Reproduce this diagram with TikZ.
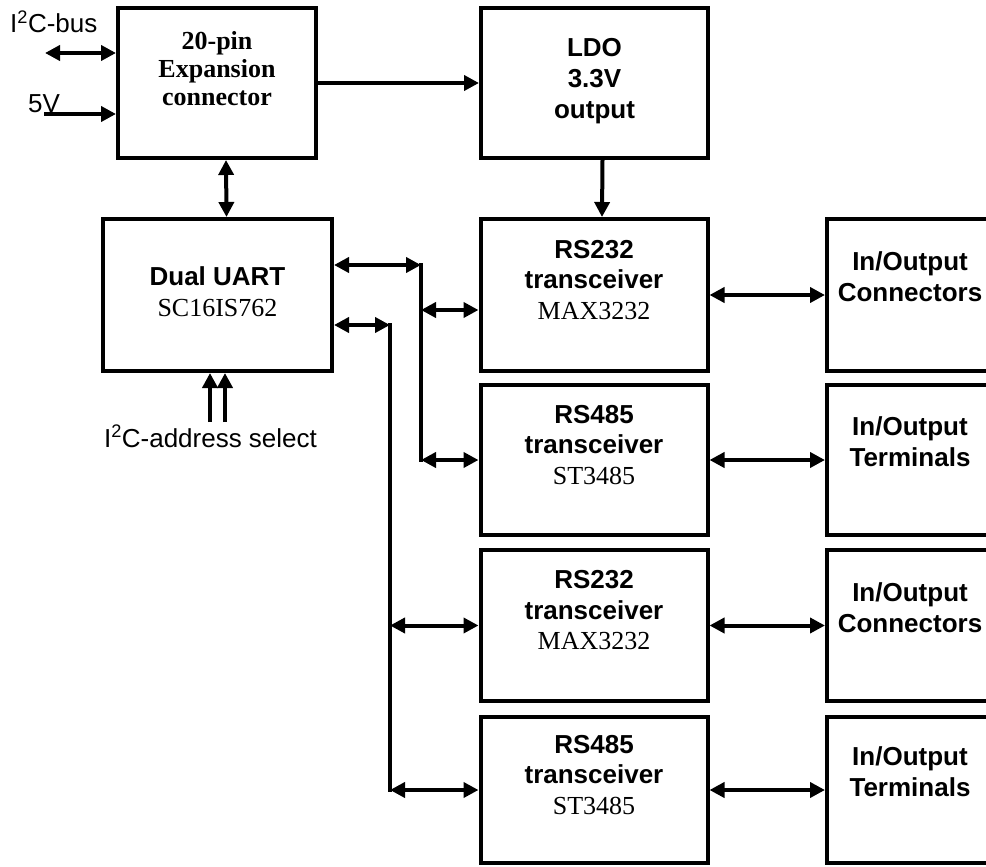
\documentclass[tikz,border=0pt]{standalone}
\usepackage{fontspec}
\setmainfont{Liberation Serif}
\setsansfont{Liberation Sans}
\usepackage{tikz}
\usetikzlibrary{arrows.meta}
\tikzstyle{blk}=[shape=rectangle, draw, line width=4pt, inner sep=0]
\tikzstyle{txt}=[align=center, inner sep=0, font=\fontsize{26}{31}\selectfont]
\tikzstyle{lbl}=[inner sep=0, font=\sffamily\fontsize{26}{31}\selectfont]
\tikzstyle{bus}=[line width=4pt, line cap=rect]
\tikzstyle{sgl}=[line width=4pt, -{Triangle[length=15pt,width=15pt]}]
\tikzstyle{dbl}=[line width=4pt, {Triangle[length=15pt,width=15pt]}-{Triangle[length=15pt,width=15pt]}]
\newcommand{\sfb}[1]{{\sffamily\bfseries #1}}

\begin{document}
\begin{tikzpicture}[x=1pt, y=-1pt]
\useasboundingbox (0,0) rectangle (986,867);
% blocks
\node at (217,83)[blk, minimum width=198pt, minimum height=150pt](exp){};
\node at (594.5,83)[blk, minimum width=227pt, minimum height=150pt](ldo){};
\node at (217.5,295)[blk, minimum width=229pt, minimum height=152pt](uart){};
\foreach \n/\y/\h in {1/295/152, 2/460/150, 3/625.5/151, 4/790/146} {
  \node at (594,\y)[blk, minimum width=227pt, minimum height=\h pt](rs\n){};
  \node at (910,\y)[blk, minimum width=166pt, minimum height=\h pt](io\n){};
}
% texts
\node at (exp)[txt, font=\bfseries\fontsize{26}{28}\selectfont, yshift=14pt](expt){20-pin\\Expansion\\connector};
\node at (ldo)[txt, yshift=2pt](ldot){\sfb{LDO}\\\sfb{3.3V}\\\sfb{output}};
\node at (uart)[txt, yshift=3pt](uartt){\sfb{Dual UART}\\SC16IS762};
\foreach \n/\a/\b in {1/RS232/MAX3232, 2/RS485/ST3485, 3/RS232/MAX3232, 4/RS485/ST3485}
  {\node at (rs\n)[txt, font=\fontsize{26}{30.5}\selectfont, yshift=15pt](rs\n t){\sfb{\a}\\\sfb{transceiver}\\\b};}
\foreach \n/\a in {1/Connectors, 2/Terminals, 3/Connectors, 4/Terminals}
  {\node at (io\n)[txt, yshift=18pt](io\n t){\sfb{In/Output}\\\sfb{\a}};}
\node at (10,33)[lbl, anchor=base west](i2cl){I\textsuperscript{2}C-bus};
\node at (28,113)[lbl, anchor=base west](vl){5V};
\node at (210.5,447)[lbl, anchor=base](adrl){I\textsuperscript{2}C-address select};
% connections
\coordinate (i2c) at (45,53);
\coordinate (vin) at (44,114);
\draw[dbl] (i2c) -- (i2c -| exp.west);
\draw[sgl] (vin) -- (vin -| exp.west);
\draw[sgl] (exp) -- (ldo);
\draw[sgl] ([xshift=8pt]ldo.south) -- ([xshift=8pt]rs1.north);
\draw[dbl] ([xshift=9pt]exp.south) -- ([xshift=9pt]uart.north);
\foreach \x in {210,225} {\draw[sgl] (\x,422) -- (\x,422 |- uart.south);}
\coordinate (b1) at (421,265);
\coordinate (b2) at (390,325);
\coordinate (r1) at (421,310);
\draw[dbl] (b1 -| uart.east) -- (b1);
\draw[dbl] (b2 -| uart.east) -- (b2);
\draw[bus] (b1) -- (b1 |- rs2);
\draw[bus] (b2) -- (b2 |- rs4);
\draw[dbl] (r1) -- (r1 -| rs1.west);
\draw[dbl] (b1 |- rs2) -- (rs2.west);
\draw[dbl] (b2 |- rs3) -- (rs3.west);
\draw[dbl] (b2 |- rs4) -- (rs4.west);
\foreach \n in {1,...,4} {\draw[dbl] (rs\n) -- (io\n);}
\end{tikzpicture}
\end{document}
